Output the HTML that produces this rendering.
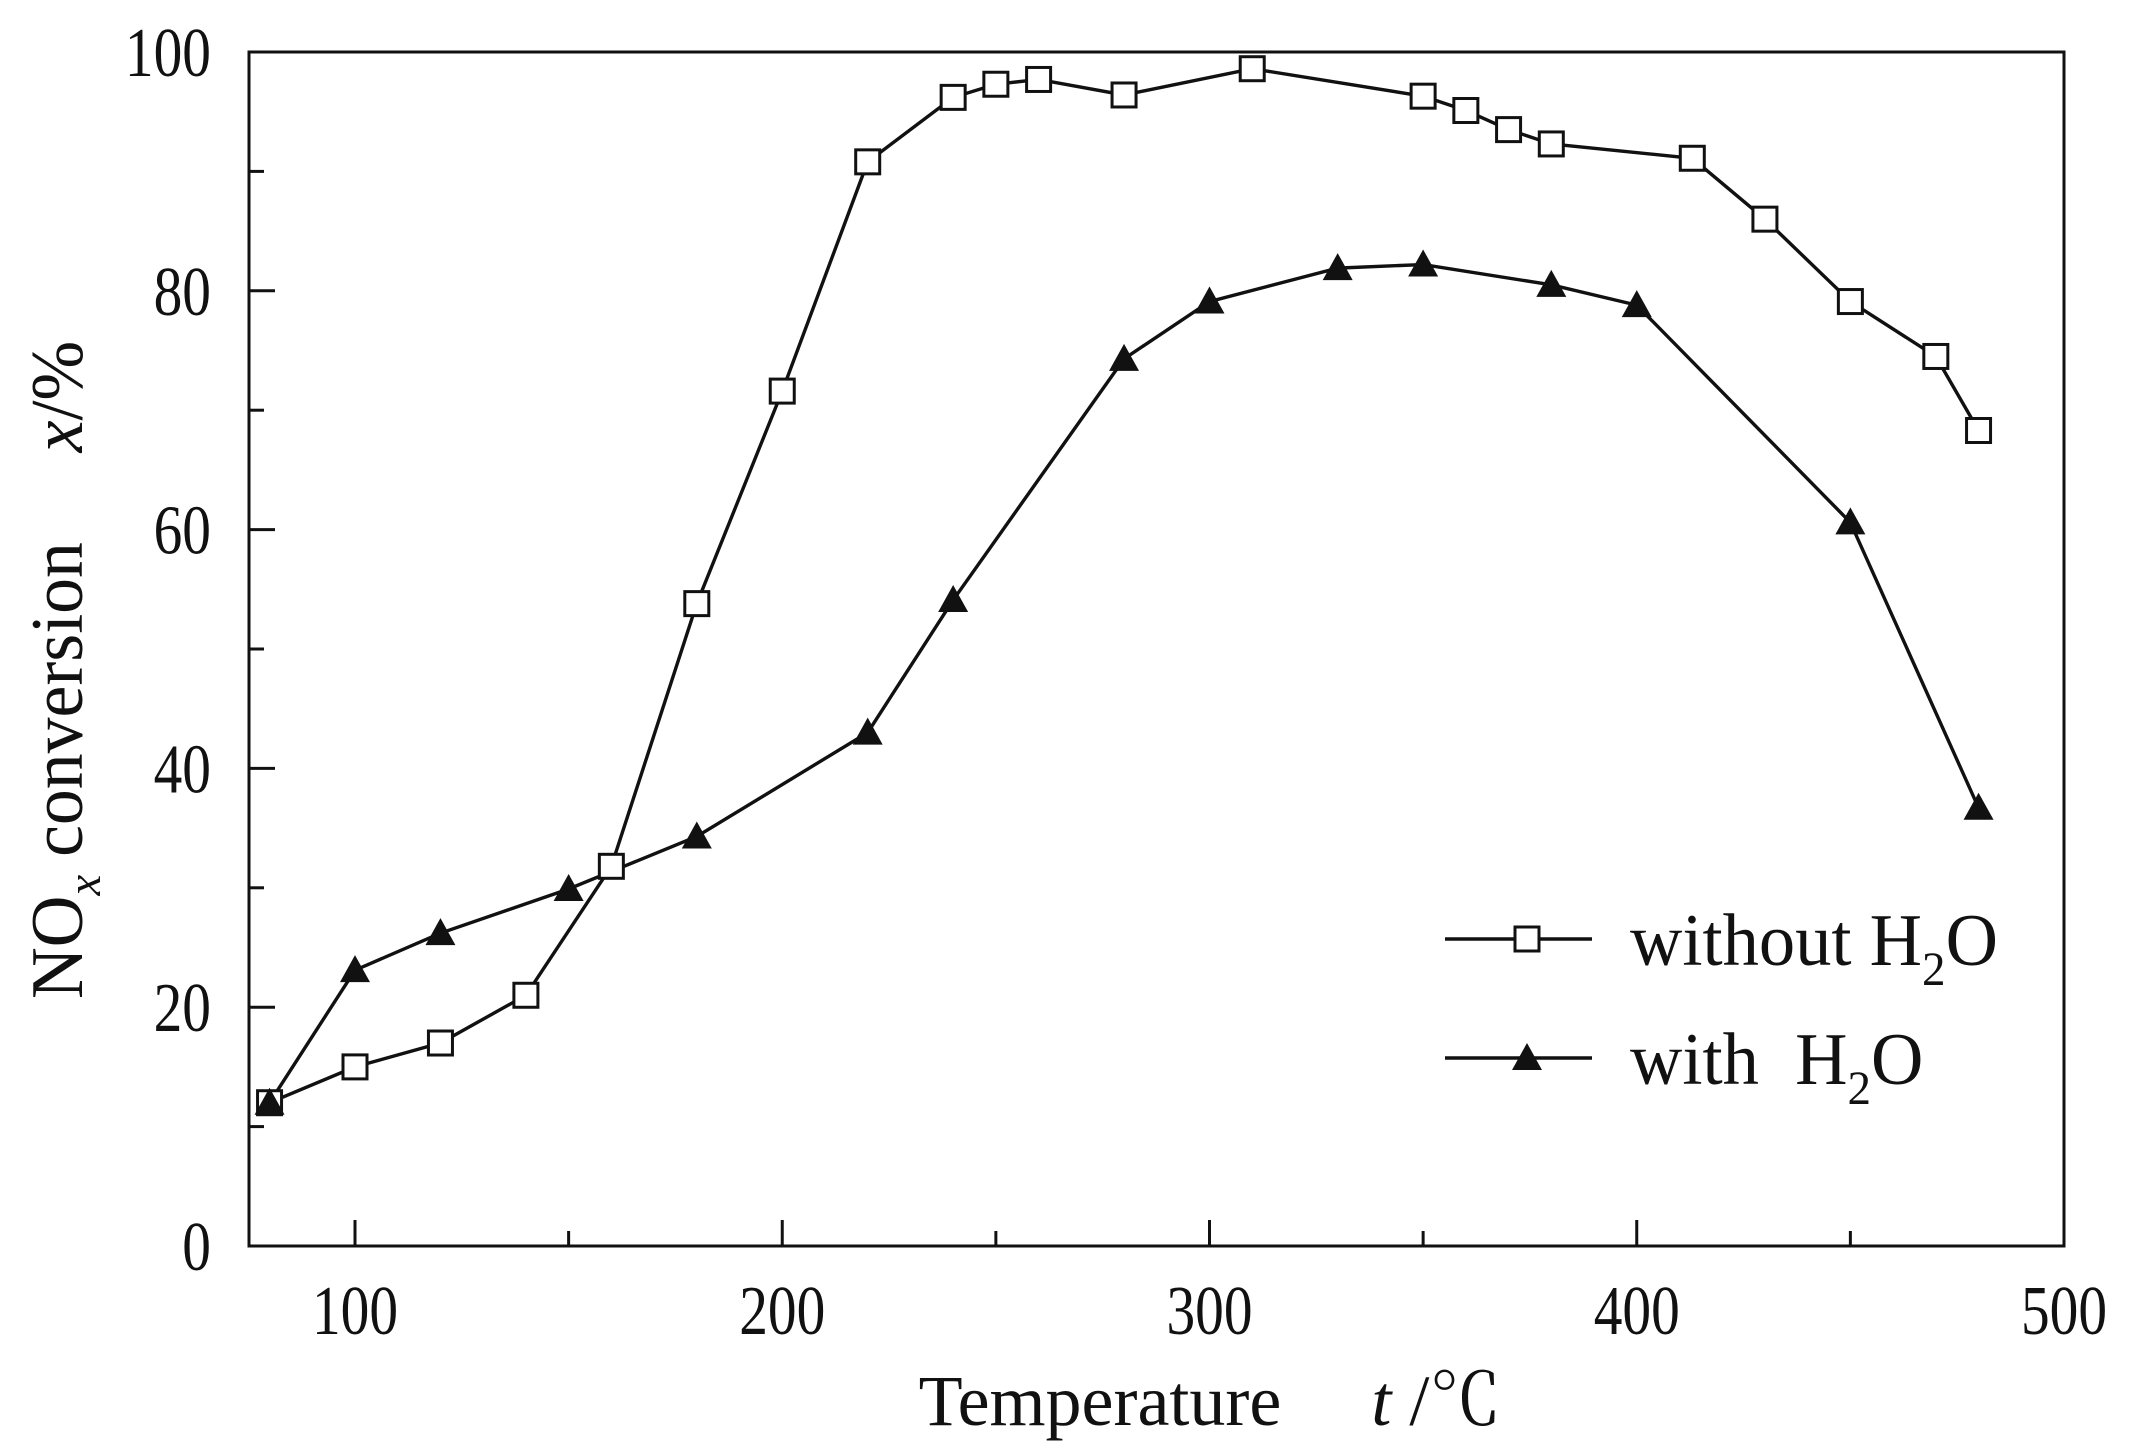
<!DOCTYPE html>
<html><head><meta charset="utf-8"><style>
html,body{margin:0;padding:0;background:#fff}
svg{display:block;font-family:"Liberation Serif","Noto Serif CJK SC",serif}
</style></head><body>
<svg id="chart" width="2133" height="1455" viewBox="0 0 2133 1455" xmlns="http://www.w3.org/2000/svg" style="position:absolute;left:0;top:0">
<g id="plot"></g>
</svg>
<script>
const xTicks=[100,200,300,400,500];
const xMinor=[150,250,350,450];
const yTicks=[0,20,40,60,80,100];
const yMinor=[10,30,50,70,90];
const tempWithout=[80,100,120,140,160,180,200,220,240,250,260,280,310,350,360,370,380,413,430,450,470,480];
const valWithout=[12,15,17,21,31.8,53.8,71.6,90.8,96.2,97.3,97.7,96.4,98.6,96.3,95.1,93.5,92.3,91.1,86,79.1,74.5,68.3];
const tempWith=[80,100,120,150,180,220,240,280,300,330,350,380,400,450,480];
const valWith=[12,23.1,26.2,29.9,34.3,43,54.1,74.3,79.1,81.9,82.2,80.5,78.8,60.6,36.7];

const L=249,R=2064,T=52,B=1246;
const X=v=>355+(v-100)*(2064-355)/400;
const Y=v=>B-(v)*(B-T)/100;
const NS="http://www.w3.org/2000/svg";
const g=document.getElementById('plot');
function mk(tag,attrs,parent){const e=document.createElementNS(NS,tag);for(const k in attrs)e.setAttribute(k,attrs[k]);(parent||g).appendChild(e);return e;}

let e=mk('rect',{x:L,y:T,width:R-L,height:B-T,fill:'none',stroke:'#111','stroke-width':3});



xTicks.forEach(v=>{
  let t=mk('line',{x1:X(v),x2:X(v),y1:B,y2:B-26,stroke:'#111','stroke-width':3});
  
  
  let l=mk('text',{transform:`translate(${X(v)},${B+88}) scale(0.82,1)`,'font-size':70,'text-anchor':'middle',fill:'#111'});
  l.textContent=v;
  
  
});
xMinor.forEach(v=>{
  let t=mk('line',{x1:X(v),x2:X(v),y1:B,y2:B-15,stroke:'#111','stroke-width':3});
  
  
});
yTicks.forEach(v=>{
  let t=mk('line',{x1:L,x2:L+26,y1:Y(v),y2:Y(v),stroke:'#111','stroke-width':3});
  
  
  let l=mk('text',{transform:`translate(${L-38},${Y(v)+24}) scale(0.82,1)`,'font-size':70,'text-anchor':'end',fill:'#111'});
  l.textContent=v;
  
  
});
yMinor.forEach(v=>{
  let t=mk('line',{x1:L,x2:L+15,y1:Y(v),y2:Y(v),stroke:'#111','stroke-width':3});
  
  
});

function pts(xs,ys){return xs.map((x,i)=>X(x)+','+Y(ys[i])).join(' ');}
let s1=mk('polyline',{points:pts(tempWithout,valWithout),fill:'none',stroke:'#111','stroke-width':3.4});


let s2=mk('polyline',{points:pts(tempWith,valWith),fill:'none',stroke:'#111','stroke-width':3.4});



function square(cx,cy){return mk('rect',{x:cx-12,y:cy-12,width:24,height:24,fill:'#fff',stroke:'#111','stroke-width':3});}
function tri(cx,cy){return mk('polygon',{points:`${cx},${cy-15} ${cx-15},${cy+12} ${cx+15},${cy+12}`,fill:'#111'});}
tempWithout.forEach((t,i)=>{
  let m=square(X(t),Y(valWithout[i]));
  
  
});
tempWith.forEach((t,i)=>{
  let m=tri(X(t),Y(valWith[i]));
  
  
});

let lg=mk('g',{});


let l1=mk('line',{x1:1445,x2:1592,y1:939,y2:939,stroke:'#111','stroke-width':3.4},lg);


let m1=square(1527,939);lg.appendChild(m1);


let l2=mk('line',{x1:1445,x2:1592,y1:1058,y2:1058,stroke:'#111','stroke-width':3.4},lg);


let m2=tri(1527,1058);lg.appendChild(m2);


</script>
<svg style="position:absolute;left:0;top:0" width="2133" height="1455">
<text transform="translate(1630,965) scale(0.98,1)" font-size="74" font-family="Liberation Serif,serif" fill="#111">without H<tspan font-size="48" dy="20">2</tspan><tspan dy="-20">O</tspan></text>
<text transform="translate(1630,1084) scale(0.98,1)" font-size="74" font-family="Liberation Serif,serif" fill="#111">with&#160;&#160;H<tspan font-size="48" dy="20">2</tspan><tspan dy="-20">O</tspan></text>
<text transform="translate(1210,1425) scale(1.0,1)" font-size="72" text-anchor="middle" font-family="Liberation Serif,'Noto Serif CJK SC',serif" fill="#111">Temperature&#160;&#160;&#160;&#160;&#160;<tspan font-style="italic">t</tspan> /℃</text>
<text transform="translate(82,670) rotate(-90) scale(0.97,1)" font-size="74" text-anchor="middle" font-family="Liberation Serif,serif" fill="#111">NO<tspan font-size="48" font-style="italic" dy="18">x</tspan><tspan dy="-18"> conversion&#160;&#160;&#160;&#160;&#160;</tspan><tspan font-style="italic">x</tspan>/%</text>
</svg>
</body></html>
